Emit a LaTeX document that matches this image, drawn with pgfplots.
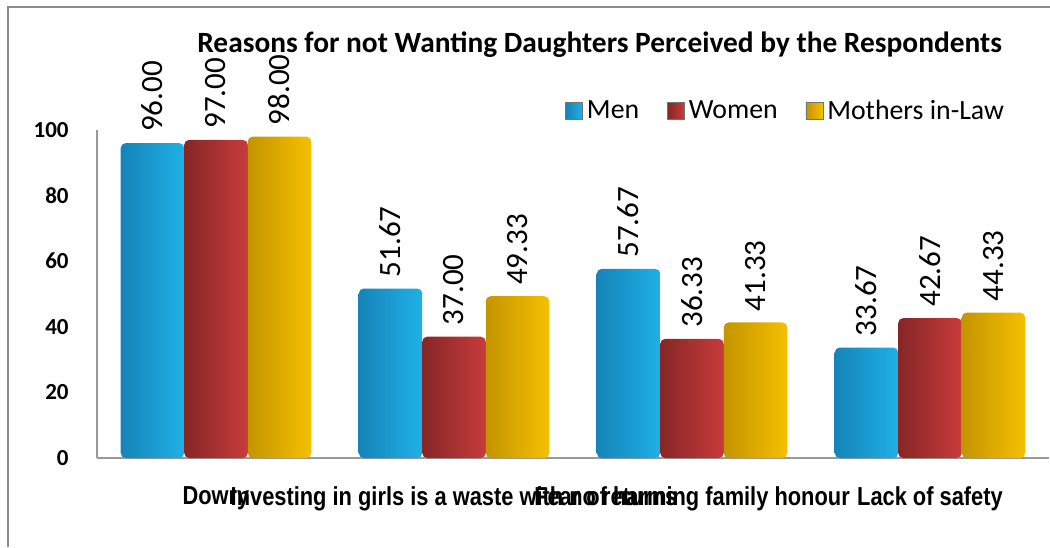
\documentclass[border=0pt]{standalone}
\usepackage{pgfplots}
\usepackage{pgfplotstable}
\pgfplotsset{compat=1.18}
\usepackage{fontspec}
\setmainfont{Carlito}
\newfontfamily\narrowfont[FakeStretch=0.84]{Liberation Sans}

\definecolor{blueD}{HTML}{1584B8}
\definecolor{blueL}{HTML}{32CCF8}
\definecolor{blueR}{HTML}{20B0E6}
\definecolor{redD}{HTML}{862626}
\definecolor{redL}{HTML}{E55353}
\definecolor{redR}{HTML}{C83B3B}
\definecolor{yelD}{HTML}{C49400}
\definecolor{yelL}{HTML}{FFD714}
\definecolor{yelR}{HTML}{F5C000}

\pgfplotstableread{
c   men    women  mil
0   96.00  97.00  98.00
1   51.67  37.00  49.33
2   57.67  36.33  41.33
3   33.67  42.67  44.33
}\data

\pgfplotsset{
  menbar/.style={draw=none, left color=blueD, middle color=blueL, right color=blueR, rounded corners=2.5pt},
  womenbar/.style={draw=none, left color=redD, middle color=redL, right color=redR, rounded corners=2.5pt},
  milbar/.style={draw=none, left color=yelD, middle color=yelL, right color=yelR, rounded corners=2.5pt},
}

\begin{document}
\begin{tikzpicture}
% frame of the chart area
\draw[gray!90, line width=1pt] (4pt,0pt) -- (4pt,270pt) -- (525pt,270pt);

\begin{axis}[
    at={(48.5pt,44.5pt)}, anchor=south west,
    scale only axis,
    width=476pt, height=164pt,
    ymin=0, ymax=100,
    xmin=-0.5, xmax=3.5,
    ybar=0pt, bar width=31.75pt,
    axis x line*=bottom, axis y line*=left,
    axis line style={gray!80, line width=1.3pt, -},
    tick style={draw=none},
    ytick={0,20,40,60,80,100},
    yticklabel style={font=\fontsize{11.5}{12}\selectfont\bfseries,
                      /pgf/number format/assume math mode=true,
                      anchor=east, inner sep=0pt, xshift=-14pt},
    xtick={0,1,2,3},
    xticklabels={Dowry,
                 Investing in girls is a waste with no returns,
                 Fear of harming family honour,
                 Lack of safety},
    xticklabel style={font=\narrowfont\bfseries\fontsize{13}{14}\selectfont,
                      anchor=north, inner sep=0pt, yshift=-10pt},
    nodes near coords={\pgfmathprintnumber[fixed, fixed zerofill, precision=2, assume math mode=true]{\pgfplotspointmeta}},
    nodes near coords style={rotate=90, anchor=west, inner xsep=5.5pt, inner ysep=0pt,
                             font=\fontsize{15.5}{17}\selectfont, text=black},
    legend image code/.code={\path[#1, draw=black!55, line width=0.3pt, rounded corners=0pt]
            (0pt,-4.25pt) rectangle (8.5pt,4.25pt);},
    legend columns=-1,
    legend style={at={(0.4916,1.058)}, anchor=west, draw=none, fill=none,
                  inner sep=0pt, font=\fontsize{13.9}{15}\selectfont,
                  /tikz/every even column/.append style={column sep=12pt},
                  cells={anchor=west}},
    clip=false,
]
\addlegendimage{menbar}
\addlegendentry{Men}
\addlegendimage{womenbar}
\addlegendentry{Women}
\addlegendimage{milbar}
\addlegendentry{Mothers in-Law}

% one bar per plot so that each cylinder gets its own shading
\pgfplotsinvokeforeach{0,1,2,3}{
  \addplot[menbar, bar shift=-31.75pt, restrict x to domain=#1:#1, forget plot]
      table[x=c, y=men] {\data};
  \addplot[womenbar, bar shift=0pt, restrict x to domain=#1:#1, forget plot]
      table[x=c, y=women] {\data};
  \addplot[milbar, bar shift=31.75pt, restrict x to domain=#1:#1, forget plot]
      table[x=c, y=mil] {\data};
}

\node[font=\fontsize{14.7}{16}\selectfont\bfseries, anchor=base]
    at (axis description cs:0.528,1.236) {Reasons for not Wanting Daughters Perceived by the Respondents};
\end{axis}

\pgfresetboundingbox
\path (0pt,0pt) rectangle (525pt,273.5pt);
\end{tikzpicture}
\end{document}
